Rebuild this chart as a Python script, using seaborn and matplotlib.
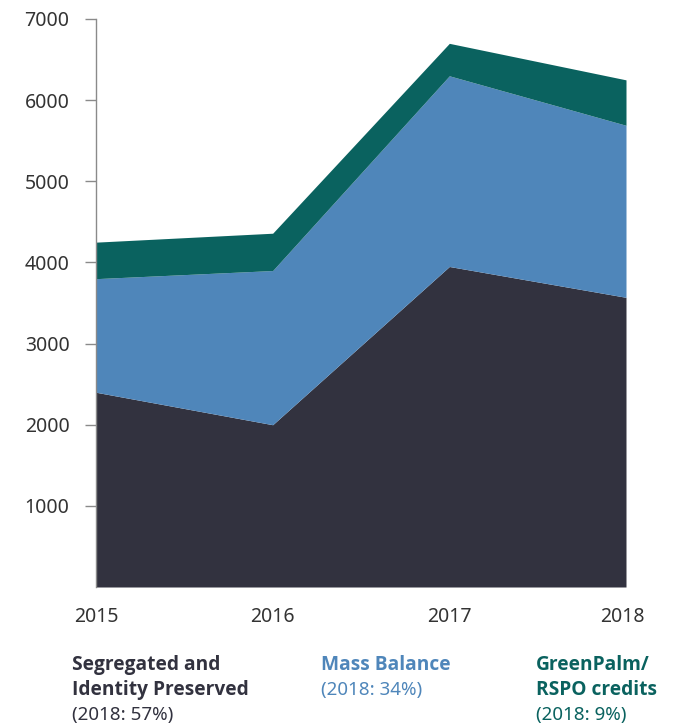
"""
Stacked area chart of palm oil sourcing by certification type
"""

import matplotlib.pyplot as plt
import seaborn as sns
import pandas as pd

years = [2015, 2016, 2017, 2018]
segregated = [2400, 2000, 3950, 3570]
mass_balance = [1400, 1900, 2350, 2120]
greenpalm = [450, 460, 400, 560]

series_names = ["Segregated and\nIdentity Preserved", "Mass Balance", "GreenPalm/\nRSPO credits"]
series_notes = ["(2018: 57%)", "(2018: 34%)", "(2018: 9%)"]
colors = ["#32323f", "#4f86ba", "#0a625f"]

df = pd.DataFrame({
    "year": years,
    "segregated": segregated,
    "mass_balance": mass_balance,
    "greenpalm": greenpalm,
})

sns.set_style("white")
plt.rcParams['font.family'] = ['Noto Sans', 'DejaVu Sans']

fig = plt.figure(figsize=(6.75, 7.24), dpi=100)
ax = fig.add_axes([96 / 675, 1 - 587 / 724, 530 / 675, 568 / 724])

ax.stackplot(
    df["year"],
    df["segregated"], df["mass_balance"], df["greenpalm"],
    colors=colors,
    linewidth=0,
)

ax.set_xlim(2015, 2018)
ax.set_ylim(0, 7000)
ax.set_yticks(range(1000, 7001, 1000))
ax.set_xticks(years)
ax.set_xticklabels([])
ax.tick_params(axis="y", left=True, length=8, width=1, color="#8a8a8a",
               labelsize=14, labelcolor="#333333", pad=11)
ax.tick_params(axis="x", bottom=False)
sns.despine(ax=ax, top=True, right=True, bottom=True)
ax.spines["left"].set_color("#8a8a8a")
ax.spines["left"].set_linewidth(1)

# year labels below the plot
for yr in years:
    xf = (96 + (yr - 2015) / 3 * 530) / 675
    if yr == 2018:
        xf = 622 / 675
    fig.text(xf, 1 - 617 / 724, str(yr), ha="center", va="center",
             fontsize=14, color="#333333")

# legend-like labels
label_x = [72, 321, 536]
for x, name, note, c in zip(label_x, series_names, series_notes, colors):
    lines = name.split("\n")
    y = 670
    for line in lines:
        fig.text(x / 675, 1 - y / 724, line, ha="left", va="baseline",
                 fontsize=13.8, fontweight="bold", color=c,
                 family=["Open Sans", "DejaVu Sans"])
        y += 25
    fig.text(x / 675, 1 - y / 724, note, ha="left", va="baseline",
             fontsize=13.5, color=c)

plt.savefig("out.png", dpi=100)
plt.close()
